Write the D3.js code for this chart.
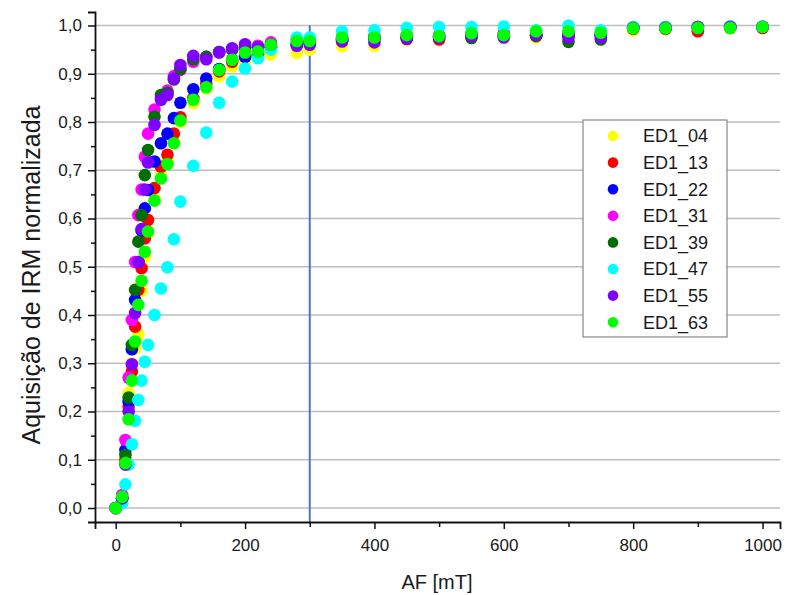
<!DOCTYPE html>
<html>
<head>
<meta charset="utf-8">
<script src="https://cdn.jsdelivr.net/npm/d3@7"></script>
<style>
  html, body { margin: 0; padding: 0; background: #fff; }
  svg { display: block; }
  text { font-family: "Liberation Sans", Arial, sans-serif; }
</style>
</head>
<body>
<svg id="chart" width="787" height="595"></svg>
<script>
// ---- data ----
const fieldMT = [0,10,15,20,25,30,35,40,45,50,60,70,80,90,100,120,140,160,180,200,220,240,280,300,350,400,450,500,550,600,650,700,750,800,850,900,950,1000];

const seriesNames = ["ED1_04","ED1_13","ED1_22","ED1_31","ED1_39","ED1_47","ED1_55","ED1_63"];
const seriesColors = ["#FFFF00","#FF0000","#0000FF","#FF00FF","#006E00","#00FFFF","#7F00FF","#00FF00"];

const ED1_04 = [0,0.02,0.10,0.238,0.30,0.33,0.36,0.45,0.52,0.57,0.64,0.69,0.72,0.76,0.80,0.84,0.87,0.895,0.915,0.925,0.935,0.94,0.943,0.95,0.957,0.958,0.97,0.972,0.975,0.975,0.975,0.975,0.975,0.99,0.993,0.995,0.995,0.995];
const ED1_13 = [0,0.02,0.10,0.21,0.283,0.376,0.452,0.497,0.559,0.597,0.663,0.707,0.732,0.776,0.81,0.85,0.88,0.905,0.925,0.935,0.945,0.955,0.96,0.965,0.97,0.972,0.975,0.971,0.98,0.98,0.98,0.98,0.98,0.993,0.993,0.988,0.995,0.995];
const ED1_22 = [0,0.02,0.12,0.22,0.329,0.431,0.51,0.575,0.621,0.659,0.718,0.756,0.776,0.808,0.84,0.868,0.89,0.91,0.929,0.935,0.94,0.955,0.96,0.965,0.97,0.975,0.975,0.978,0.98,0.98,0.98,0.98,0.98,0.995,0.995,0.995,0.997,0.997];
const ED1_31 = [0,0.027,0.141,0.27,0.39,0.51,0.607,0.66,0.728,0.776,0.826,0.85,0.865,0.895,0.908,0.925,0.935,0.945,0.95,0.955,0.958,0.965,0.97,0.97,0.975,0.978,0.98,0.98,0.982,0.985,0.985,0.985,0.985,0.995,0.997,0.997,0.998,0.998];
const ED1_39 = [0,0.02,0.11,0.229,0.338,0.452,0.552,0.607,0.69,0.742,0.811,0.856,0.86,0.888,0.91,0.93,0.935,0.945,0.95,0.955,0.955,0.96,0.962,0.965,0.97,0.975,0.975,0.975,0.974,0.978,0.978,0.966,0.971,0.995,0.995,0.997,0.997,0.997];
const ED1_47 = [0,0.01,0.049,0.09,0.132,0.181,0.224,0.264,0.303,0.338,0.40,0.455,0.499,0.557,0.635,0.709,0.778,0.84,0.884,0.911,0.932,0.95,0.975,0.975,0.988,0.99,0.995,0.997,0.997,0.998,0.99,1.0,0.99,0.997,0.997,0.997,0.998,0.998];
const ED1_55 = [0,0.02,0.09,0.20,0.298,0.404,0.51,0.578,0.66,0.716,0.794,0.846,0.856,0.89,0.918,0.937,0.93,0.944,0.953,0.961,0.955,0.96,0.958,0.96,0.967,0.965,0.972,0.975,0.978,0.975,0.98,0.975,0.975,0.995,0.995,0.997,0.997,0.997];
const ED1_63 = [0,0.023,0.093,0.184,0.264,0.345,0.421,0.471,0.531,0.573,0.637,0.683,0.713,0.756,0.803,0.846,0.872,0.908,0.929,0.944,0.946,0.96,0.968,0.968,0.975,0.975,0.98,0.978,0.984,0.98,0.988,0.988,0.985,0.994,0.994,0.995,0.995,0.997];

const seriesValues = [ED1_04, ED1_13, ED1_22, ED1_31, ED1_39, ED1_47, ED1_55, ED1_63];

const xMajorTicks = [0,200,400,600,800,1000];
const xMinorTicks = [100,300,500,700,900];
const yMajorTicks = [0,0.1,0.2,0.3,0.4,0.5,0.6,0.7,0.8,0.9,1.0];
const yMinorTicks = [0.05,0.15,0.25,0.35,0.45,0.55,0.65,0.75,0.85,0.95];
const markerField = 300;

const xTitle = "AF [mT]";
const yTitle = "Aquisição de IRM normalizada";

// ---- chart ----
const svg = d3.select("#chart");
const x = d3.scaleLinear().domain([-32, 1027]).range([95, 780]);
const y = d3.scaleLinear().domain([-0.029, 1.028]).range([522, 12]);
const fmt = v => d3.format(".1f")(v).replace(".", ",");

// gridlines
svg.append("g").selectAll("line").data(yMajorTicks).join("line")
  .attr("x1", x.range()[0]).attr("x2", x.range()[1])
  .attr("y1", d => y(d)).attr("y2", d => y(d))
  .attr("stroke", "#bdbdbd").attr("stroke-width", 1.3);

// reference line at 300 mT
svg.append("line")
  .attr("x1", x(markerField)).attr("x2", x(markerField))
  .attr("y1", y(1.0)).attr("y2", y.range()[0])
  .attr("stroke", "#4a76c0").attr("stroke-width", 2);

// axes
const xAxis = svg.append("g").attr("transform", `translate(0,${y.range()[0]})`)
  .call(d3.axisBottom(x).tickValues(xMajorTicks).tickSize(7).tickPadding(10).tickFormat(d3.format("d")));
const xMinor = svg.append("g").attr("transform", `translate(0,${y.range()[0]})`)
  .call(d3.axisBottom(x).tickValues(xMinorTicks).tickSize(5).tickFormat(""));
const yAxis = svg.append("g").attr("transform", `translate(${x.range()[0]},0)`)
  .call(d3.axisLeft(y).tickValues(yMajorTicks).tickSize(7).tickPadding(6).tickFormat(fmt));
const yMinor = svg.append("g").attr("transform", `translate(${x.range()[0]},0)`)
  .call(d3.axisLeft(y).tickValues(yMinorTicks).tickSize(4).tickFormat(""));

[xAxis, xMinor, yAxis, yMinor].forEach(g => {
  g.select(".domain").attr("stroke", "#111").attr("stroke-width", 1.8);
  g.selectAll(".tick line").attr("stroke", "#111").attr("stroke-width", 1.5);
  g.selectAll(".tick text").attr("font-size", 17).attr("fill", "#1a1a1a")
    .attr("font-family", "'Liberation Sans', Arial, sans-serif");
});
xMinor.select(".domain").remove();
yMinor.select(".domain").remove();

// points
seriesValues.forEach((vals, i) => {
  svg.append("g").selectAll("circle").data(fieldMT.map((f, j) => [f, vals[j]])).join("circle")
    .attr("cx", d => x(d[0])).attr("cy", d => y(d[1])).attr("r", 6.3)
    .attr("fill", seriesColors[i]);
});

// axis titles
svg.append("text").attr("x", 437).attr("y", 589).attr("text-anchor", "middle")
  .attr("font-size", 20).attr("fill", "#1a1a1a").text(xTitle);
svg.append("text").attr("transform", "translate(40,275) rotate(-90)").attr("text-anchor", "middle")
  .attr("font-size", 25).attr("fill", "#1a1a1a").text(yTitle);

// legend
const lg = svg.append("g");
lg.append("rect").attr("x", 583).attr("y", 120).attr("width", 144).attr("height", 217)
  .attr("fill", "#fff").attr("stroke", "#888").attr("stroke-width", 1.2);
seriesNames.forEach((name, i) => {
  const cy = 136 + i * 26.6;
  lg.append("circle").attr("cx", 613).attr("cy", cy).attr("r", 5.3).attr("fill", seriesColors[i]);
  lg.append("text").attr("x", 643).attr("y", cy).attr("dy", "0.36em")
    .attr("font-size", 18).attr("fill", "#1a1a1a").text(name);
});
</script>
</body>
</html>
